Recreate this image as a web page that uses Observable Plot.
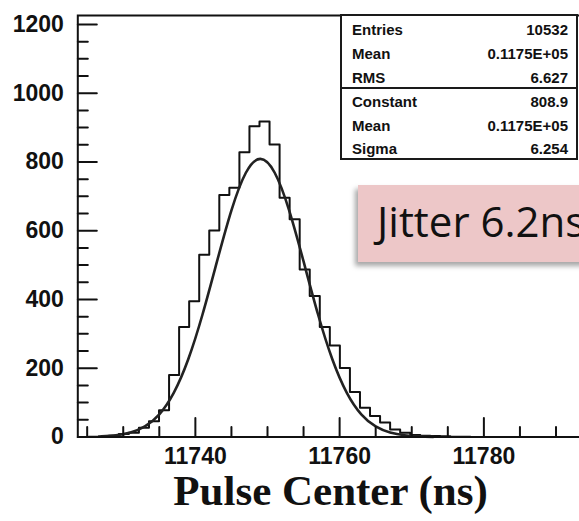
<!DOCTYPE html>
<html>
<head>
<meta charset="utf-8">
<script src="https://cdn.jsdelivr.net/npm/d3@7"></script>
<script src="https://cdn.jsdelivr.net/npm/@observablehq/plot@0.6"></script>
<style>
  html, body { margin: 0; padding: 0; background: #fff; overflow: hidden; }
  #wrap { position: relative; width: 579px; height: 521px; overflow: hidden; }
  #chart { position: absolute; left: 0; top: 0; width: 640px; height: 521px; }
  #chart svg { max-width: none !important; width: 640px !important; height: 521px !important; }
  .stats { position: absolute; left: 340px; top: 14px; width: 238px; height: 146px; box-sizing: border-box;
           border: 2px solid #1a1a1a; background: #fff; font: bold 15px "Liberation Sans", Arial, sans-serif; color: #111; }
  .stats .row { position: absolute; left: 10px; right: 8px; height: 20px; line-height: 20px; display: flex; justify-content: space-between; }
  .stats .div { position: absolute; left: 0; right: 0; top: 71px; border-top: 2px solid #1a1a1a; }
  .jitter { position: absolute; left: 358px; top: 185px; width: 320px; height: 77px; background: #edc7c8;
            box-shadow: -3px 4px 5px rgba(0,0,0,0.35); }
  .jitter span { position: absolute; left: 19px; top: 15px; font: 42px "Open Sans", sans-serif; line-height: 42px; color: #111; white-space: nowrap; }
</style>
</head>
<body>
<div id="wrap">
  <div id="chart"></div>
</div>
<script>
// ---- data ----
const binStart = 11725.21;   // left edge of first histogram bin (ns)
const binWidth = 1.393;      // bin width (ns)
const counts = [1, 2, 4, 9, 12, 27, 46, 78, 180, 320, 395, 530, 601, 704, 725, 828, 904, 918, 851, 696,
                633, 487, 410, 320, 266, 201, 131, 85, 61, 42, 22, 12, 6, 4, 3, 2, 1, 1];

// Gaussian fit curve
const fitX = [11727, 11729, 11731, 11733, 11735, 11737, 11739, 11741, 11743, 11745, 11747, 11749,
              11751, 11753, 11755, 11757, 11759, 11761, 11763, 11765, 11767, 11769, 11771, 11773];
const fitY = [1.7, 4.9, 12.9, 30.7, 66.0, 128.4, 225.3, 357.0, 510.6, 659.3, 768.6, 809,
              768.6, 659.3, 510.6, 357.0, 225.3, 128.4, 66.0, 30.7, 12.9, 4.9, 1.7, 0.5];

const xDomain = [11723.7, 11800.3];
const yDomain = [0, 1226];
const xMajor = [11740, 11760, 11780];
const xMinor = [11725, 11730, 11735, 11745, 11750, 11755, 11765, 11770, 11775, 11785, 11790];
const yMajor = [0, 200, 400, 600, 800, 1000, 1200];
const yMinor = [50, 100, 150, 250, 300, 350, 450, 500, 550, 650, 700, 750, 850, 900, 950, 1050, 1100, 1150];

const statsTop = [["Entries", "10532"], ["Mean", "0.1175E+05"], ["RMS", "6.627"]];
const statsFit = [["Constant", "808.9"], ["Mean", "0.1175E+05"], ["Sigma", "6.254"]];
const xTitle = "Pulse Center (ns)";
const note = "Jitter 6.2ns";

// ---- build tables ----
const hist = [{x: binStart, y: 0}];
counts.forEach((c, i) => hist.push({x: binStart + i * binWidth, y: c}));
hist.push({x: binStart + counts.length * binWidth, y: counts[counts.length - 1]});
hist.push({x: binStart + counts.length * binWidth, y: 0});
const fit = fitX.map((x, i) => ({x, y: fitY[i]}));

const tickShape = { draw(ctx, l) { ctx.moveTo(0, 0); ctx.lineTo(0, -l); } };
const ink = "#111";

const chart = Plot.plot({
  width: 640,
  height: 521,
  marginLeft: 77.3,
  marginRight: 10.2,
  marginTop: 15,
  marginBottom: 84.5,
  style: { fontFamily: "'Liberation Sans', Arial, sans-serif", fontWeight: "bold", fontSize: "23px", color: ink, background: "transparent", maxWidth: "none" },
  x: { domain: xDomain },
  y: { domain: yDomain },
  marks: [
    Plot.line(hist, { x: "x", y: "y", curve: "step-after", stroke: ink, strokeWidth: 2 }),
    Plot.line(fit, { x: "x", y: "y", curve: "natural", stroke: "#222", strokeWidth: 2.6 }),
    Plot.vector(xMajor, { x: d => d, frameAnchor: "bottom", length: 19, rotate: 0, anchor: "start", shape: tickShape, stroke: ink, strokeWidth: 2 }),
    Plot.vector(xMinor, { x: d => d, frameAnchor: "bottom", length: 10, rotate: 0, anchor: "start", shape: tickShape, stroke: ink, strokeWidth: 2 }),
    Plot.vector(yMajor, { y: d => d, frameAnchor: "left", length: 19, rotate: 90, anchor: "start", shape: tickShape, stroke: ink, strokeWidth: 2 }),
    Plot.vector(yMinor, { y: d => d, frameAnchor: "left", length: 10, rotate: 90, anchor: "start", shape: tickShape, stroke: ink, strokeWidth: 2 }),
    Plot.frame({ stroke: ink, strokeWidth: 2 }),
    Plot.axisX({ ticks: xMajor, tickSize: 0, tickPadding: 11, tickFormat: d => String(d), label: null, fontSize: 23, fontWeight: "bold", fill: ink }),
    Plot.axisY({ ticks: yMajor, tickSize: 0, tickPadding: 14, tickFormat: d => String(d), label: null, fontSize: 23, fontWeight: "bold", fill: ink }),
    Plot.text([xTitle], { text: d => d, frameAnchor: "bottom", dx: -23.5, dy: 68, fontSize: 43, fontFamily: "'Liberation Serif', 'Times New Roman', serif", fontWeight: "bold", fill: ink })
  ]
});
chart.style.maxWidth = "none";
document.getElementById("chart").appendChild(chart);

// stats box
const wrap = document.getElementById("wrap");
const box = document.createElement("div");
box.className = "stats";
const rowTops = [4, 28, 52, 76, 99.5, 123];
[...statsTop, ...statsFit].forEach(([k, v], i) => {
  const r = document.createElement("div");
  r.className = "row";
  r.style.top = rowTops[i] + "px";
  r.innerHTML = `<span>${k}</span><span>${v}</span>`;
  box.appendChild(r);
});
const dv = document.createElement("div");
dv.className = "div";
box.appendChild(dv);
wrap.appendChild(box);

// annotation box
const jb = document.createElement("div");
jb.className = "jitter";
jb.innerHTML = `<span>${note}</span>`;
wrap.appendChild(jb);
</script>
</body>
</html>
